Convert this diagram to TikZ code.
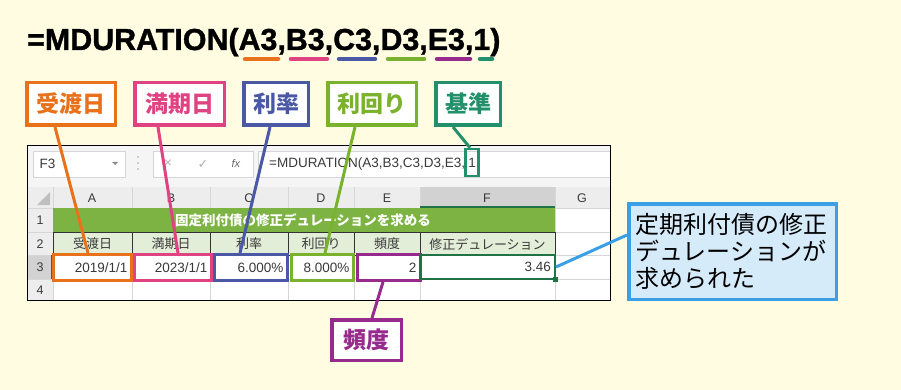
\documentclass[tikz,border=0pt]{standalone}
\usepackage{fontspec}
\setmainfont{Liberation Sans}
\newfontfamily\jpfont{Noto Sans CJK JP}
\newfontfamily\symfont{DejaVu Sans}
\newfontfamily\heavyfont{Liberation Sans Bold}[FakeBold=1.2]
\newcommand\fsz[1]{\fontsize{#1}{#1}\selectfont}
\definecolor{bg}{HTML}{FFFCE1}
\definecolor{cOrange}{HTML}{E8721C}
\definecolor{cPink}{HTML}{E04382}
\definecolor{cBlue}{HTML}{4A58A5}
\definecolor{cGreen}{HTML}{7AB22E}
\definecolor{cPurple}{HTML}{962B8D}
\definecolor{cTeal}{HTML}{22906A}
\definecolor{cSky}{HTML}{3A9FE4}
\definecolor{skyfill}{HTML}{D6EBF9}
\definecolor{xlgreen}{HTML}{217346}
\definecolor{bandgreen}{HTML}{7CB342}
\definecolor{hdrgreen}{HTML}{E3EED8}
\definecolor{gridgray}{HTML}{D6D6D6}
\definecolor{hdrgray}{HTML}{EDEDED}
\definecolor{selgray}{HTML}{D2D2D2}
\definecolor{xltext}{HTML}{3A3A3A}
\tikzset{
  tag/.style={draw=#1, text=#1, line width=3.5pt, fill=white, minimum height=42.5,
    inner sep=0pt, font=\jpfont\bfseries\fsz{23}},
  lead/.style={draw=#1, line width=3pt},
  uline/.style={draw=#1, line width=4.5pt, line cap=round},
  cellbox/.style={draw=#1, line width=3pt, minimum height=26, inner xsep=4pt,
    inner ysep=0pt, align=right, text=xltext, font=\fsz{13.5}},
  hdr/.style={text=xltext, font=\fsz{12.5}},
  lbl/.style={text=xltext, font=\jpfont\fsz{13}}
}

\begin{document}
\begin{tikzpicture}[x=1pt, y=-1pt]
  \useasboundingbox (0,0) rectangle (901,390);
  \fill[bg] (0,0) rectangle (901,390);

  \node[anchor=base west, inner sep=0pt, font=\heavyfont\fsz{30.4}] (title) at (27,50) {=MDURATION(A3,B3,C3,D3,E3,1)};
  \draw[uline=cOrange] (245,59) -- (278,59);
  \draw[uline=cPink] (291,59) -- (327,59);
  \draw[uline=cBlue] (339,59) -- (375,59);
  \draw[uline=cGreen] (388,59) -- (424,59);
  \draw[uline=cPurple] (437,59) -- (470,59);
  \draw[uline=cTeal] (480,59) -- (492,59);

  \fill[white] (27,145) rectangle (610,300);
  \fill[black!4] (27,145) rectangle (610,187);
  \draw[gridgray, fill=white] (33,151) rectangle (125,177);
  \node[anchor=west, hdr, font=\fsz{13.5}] (namebox) at (36,164) {F3};
  \fill[black!45] (112,162) -- (118,162) -- (115,165) -- cycle;
  \foreach \y in {157,163,169} \fill[black!35] (138,\y) circle (0.9);
  \draw[gridgray, fill=white] (153,151) rectangle (253,177);
  \node[text=black!30, font=\fsz{14}] (cancel) at (168,164) {×};
  \node[text=black!30, font=\symfont\fsz{13}] (enter) at (203,164) {✓};
  \node[text=black!60, font=\fsz{11}] (fx) at (236,164) {\textit{fx}};
  \draw[gridgray, fill=white] (258,151) rectangle (610,177);
  \node[draw=cTeal, line width=2.5pt, minimum width=13, minimum height=27, inner sep=0.5pt,
    text=xltext, font=\fsz{13.5}] (basis) at (472,162.5) {1};
  \node[anchor=base east, inner sep=0pt, text=xltext, font=\fsz{13.5}] (fbar) at ([xshift=1]basis.base west) {=MDURATION(A3,B3,C3,D3,E3,};

  \fill[hdrgray] (27,187) rectangle (610,208);
  \fill[hdrgray] (27,187) rectangle (53,300);
  \fill[selgray] (420,187) rectangle (555,208);
  \fill[selgray] (27,255) rectangle (53,279);
  \fill[black!25] (50,192) -- (50,205) -- (37,205) -- cycle;
  \foreach \x in {53,132,210,288,354,420,555}
    \draw[gridgray] (\x,187) -- (\x,300);
  \foreach \y in {208,232,255,279}
    \draw[gridgray] (27,\y) -- (610,\y);
  \draw[xlgreen, line width=2pt] (420,207) -- (555,207);
  \draw[xlgreen, line width=2pt] (52,255) -- (52,279);
  \foreach \c/\x in {A/92,B/171,C/249,D/321,E/387,F/487,G/582}
    \node[hdr] (col\c) at (\x,198) {\c};
  \foreach \r/\y in {1/220,2/244,3/267,4/290}
    \node[hdr] (row\r) at (40,\y) {\r};

  \fill[bandgreen] (53,208) rectangle (555,232);
  \node[text=white, font=\jpfont\bfseries\fsz{13.5}] (band) at (303,220) {固定利付債の修正デュレーションを求める};
  \fill[hdrgreen] (53,232) rectangle (555,255);
  \draw[black!80] (53,232) rectangle (555,255);
  \foreach \x in {132,210,288,354,420}
    \draw[black!80] (\x,232) -- (\x,255);
  \node[lbl] (hA) at (92.5,244) {受渡日};
  \node[lbl] (hB) at (171,244) {満期日};
  \node[lbl] (hC) at (249,244) {利率};
  \node[lbl] (hD) at (321,244) {利回り};
  \node[lbl] (hE) at (387,244) {頻度};
  \node[lbl] (hF) at (487.5,244) {修正デュレーション};

  \node[cellbox=cOrange, text width=70] (a3) at (92.5,267.5) {2019/1/1};
  \node[cellbox=cPink, text width=69] (b3) at (173,267.5) {2023/1/1};
  \node[cellbox=cBlue, text width=65] (c3) at (251,267.5) {6.000\%};
  \node[cellbox=cGreen, text width=54] (d3) at (322.5,267.5) {8.000\%};
  \node[cellbox=cPurple, text width=55] (e3) at (389,267.5) {2};
  \node[cellbox=xlgreen, line width=2pt, minimum height=24, text width=127] (f3) at (487.5,267) {3.46};
  \fill[xlgreen] (552.5,276.5) rectangle (557.5,281.5);
  \draw[black] (27,145) rectangle (610,300);

  \node[tag=cOrange, minimum width=88.5] (deliv) at (71,104) {受渡日};
  \node[tag=cPink, minimum width=89.5] (mature) at (179.5,104) {満期日};
  \node[tag=cBlue, minimum width=64.5] (rate) at (276,104) {利率};
  \node[tag=cGreen, minimum width=88.5] (yield) at (372,104) {利回り};
  \node[tag=cTeal, minimum width=64.5] (base) at (468,104) {基準};
  \node[tag=cPurple, minimum width=69.5, minimum height=40.5] (freq) at (366.5,340) {頻度};

  \draw[lead=cOrange] ([xshift=-16]deliv.south) -- ([xshift=-4.5]a3.north);
  \draw[lead=cPink] ([xshift=-21.5]mature.south) -- ([xshift=5]b3.north);
  \draw[lead=cBlue] ([xshift=-6]rate.south) -- ([xshift=-11]c3.north);
  \draw[lead=cGreen] ([xshift=-17]yield.south) -- ([xshift=2.5]d3.north);
  \draw[lead=cTeal] ([xshift=-15]base.south) -- ([xshift=-2]basis.north);
  \draw[lead=cPurple] ([xshift=-6]e3.south) -- ([xshift=5.5]freq.north);

  \node[draw=cSky, fill=skyfill, line width=3.5pt, minimum width=207.5, minimum height=95.5,
    text width=195, inner sep=6pt, align=left, font=\jpfont\fontsize{24}{27}\selectfont] (result) at (732.5,251.5)
    {定期利付債の修正\\デュレーションが\\求められた};
  \draw[lead=cSky] ([yshift=16.5]result.west) -- (f3.east);
\end{tikzpicture}
\end{document}
